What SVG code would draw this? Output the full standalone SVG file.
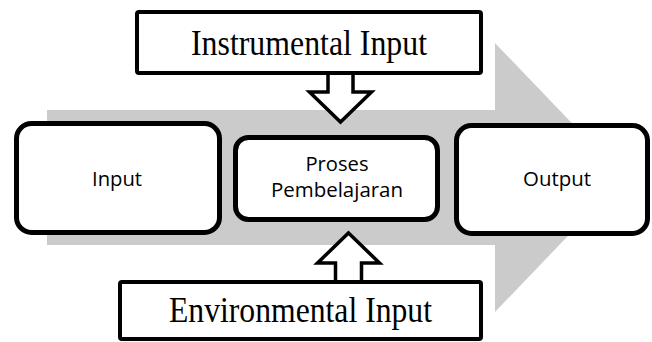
<svg xmlns="http://www.w3.org/2000/svg" width="652" height="342" viewBox="0 0 652 342">
<style>
.box{fill:#fff;stroke:#000;stroke-width:5}
.sq{fill:#fff;stroke:#000;stroke-width:4}
.hollow{fill:#fff;stroke:#000;stroke-width:3.5;stroke-linejoin:miter}
.sans{font-family:"Open Sans","Noto Sans",sans-serif;font-size:20px;fill:#000;text-anchor:middle}
.serif{font-family:"Liberation Serif","Times New Roman",serif;font-size:36px;fill:#000}
</style>
<rect width="652" height="342" fill="#fff"/>
<g id="flow-arrow">
<polygon points="47,110 495,110 495,43 624,177.5 495,312 495,245 47,245" fill="#cbcbcb"/>
</g>
<g id="connectors">
<polygon class="hollow" points="328,70 353,70 353,92 371.5,92 340.5,122 309.5,92 328,92"/>
<polygon class="hollow" points="348.5,233 379.5,263 361.5,263 361.5,284 335.5,284 335.5,263 317.5,263"/>
</g>
<g id="instrumental">
<rect class="sq" x="137" y="12" width="344" height="61" rx="2"/>
<text class="serif" x="191" y="55" textLength="236" lengthAdjust="spacingAndGlyphs">Instrumental Input</text>
</g>
<g id="environmental">
<rect class="sq" x="120" y="282" width="361" height="57" rx="2"/>
<text class="serif" x="169" y="322" textLength="263" lengthAdjust="spacingAndGlyphs">Environmental Input</text>
</g>
<g id="input">
<rect class="box" x="16.5" y="123.5" width="203" height="109" rx="15"/>
<text class="sans" x="117" y="186" textLength="50" lengthAdjust="spacingAndGlyphs">Input</text>
</g>
<g id="proses">
<rect class="box" x="235.5" y="137.5" width="202" height="82" rx="13"/>
<text class="sans" x="337" y="171" textLength="63" lengthAdjust="spacingAndGlyphs">Proses</text>
<text class="sans" x="337" y="197" textLength="132" lengthAdjust="spacingAndGlyphs">Pembelajaran</text>
</g>
<g id="output">
<rect class="box" x="456.5" y="125.5" width="191" height="108" rx="15"/>
<text class="sans" x="557" y="186" textLength="68" lengthAdjust="spacingAndGlyphs">Output</text>
</g>
</svg>
